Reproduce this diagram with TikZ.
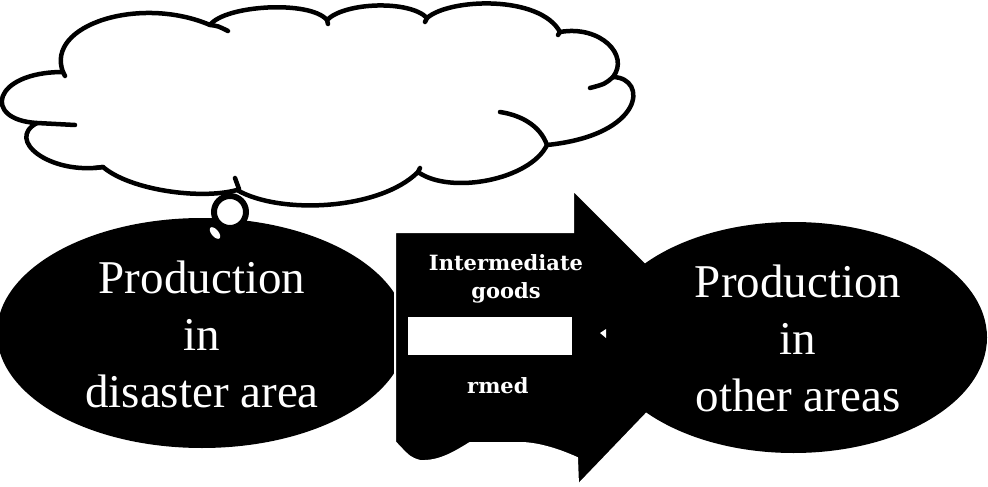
\documentclass[tikz,border=0pt]{standalone}
\usepackage{fontspec}
\setmainfont{Liberation Serif}
\newfontfamily\arrowfont{DejaVu Serif}
\usetikzlibrary{shapes.geometric}
\begin{document}
\begin{tikzpicture}[x=1pt,y=-1pt,
  cloudline/.style={line width=4.5pt, line cap=round, line join=round, draw=black},
  blackell/.style={ellipse, fill=black, draw=none, inner sep=0pt},
  bigtext/.style={text=white, font=\fontsize{47}{57}\selectfont, align=center, inner sep=0pt},
  arrowtext/.style={text=white, font=\arrowfont\bfseries\fontsize{21}{28}\selectfont, align=center, inner sep=0pt}]
\useasboundingbox (0,0) rectangle (988,487);
% thought cloud
\draw[cloudline, fill=white] (63,72)
  .. controls (45,25) and (140,-5) .. (210,25)
  .. controls (225,5) and (310,0) .. (327,20)
  .. controls (345,2) and (410,0) .. (427,18)
  .. controls (450,-2) and (540,-5) .. (560,32)
  .. controls (600,25) and (630,55) .. (613,77)
  .. controls (648,78) and (645,135) .. (547,145)
  .. controls (530,180) and (450,195) .. (418,172)
  .. controls (380,210) and (280,215) .. (237,190)
  .. controls (200,200) and (130,190) .. (103,167)
  .. controls (50,175) and (5,140) .. (37,123)
  .. controls (-18,120) and (-8,72) .. (63,72) -- cycle;
% inner arcs of the cloud
\draw[cloudline] (63,72) -- (65,76);
\draw[cloudline] (210,25) .. controls (218,26) .. (228,31);
\draw[cloudline] (327,20) -- (328,24);
\draw[cloudline] (427,18) -- (425,22);
\draw[cloudline] (560,32) -- (558,35);
\draw[cloudline] (613,77) .. controls (605,84) .. (590,88);
\draw[cloudline] (547,145) .. controls (540,125) and (520,115) .. (500,112);
\draw[cloudline] (418,172) -- (420,168);
\draw[cloudline] (239,189) -- (235,178);
\draw[cloudline] (103,167) -- (95,168);
\draw[cloudline] (37,123) -- (75,125);
% left ellipse
\node[blackell, minimum width=410pt, minimum height=230pt] (dis) at (202,333) {};
% thought bubbles
\node[circle, draw=black, fill=white, line width=6pt, minimum size=32pt, inner sep=0pt] (bub) at (230,212) {};
\node[ellipse, fill=white, minimum width=14pt, minimum height=7pt, inner sep=0pt, rotate=-50] (bubsmall) at (215,233) {};
% block arrow
\path[fill=black, draw=white, line width=2pt, line join=miter]
  (395,232) -- (573,232) -- (573,190) -- (720,337) -- (578,485) -- (577,458)
  .. controls (555,448) and (535,443) .. (520,443) -- (470,443)
  .. controls (455,452) and (440,462) .. (420,461)
  .. controls (410,458) .. (395,442) -- cycle;
\fill[white] (408,317) rectangle (572,355);
% right ellipse
\node[blackell, minimum width=387pt, minimum height=231pt] (oth) at (793.5,337.5) {};
\fill[white] (600,333) -- (606,329) -- (606,338) -- cycle;
% texts
\node[bigtext] (distxt) at (202,334) {Production\\in\\disaster area};
\node[bigtext] (othtxt) at (798,338.5) {Production\\in\\other areas};
\node[arrowtext] (goods) at (506,278.5) {Intermediate\\goods};
\node[arrowtext, anchor=base west] (goods2) at (467,393) {rmed};
\end{tikzpicture}
\end{document}
